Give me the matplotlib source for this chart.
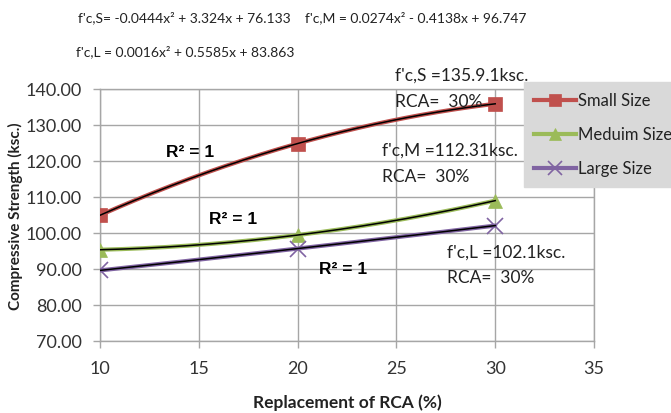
import numpy as np
import matplotlib
matplotlib.use("Agg")
import matplotlib.pyplot as plt
from matplotlib.lines import Line2D

# Data
x_vals = [10, 20, 30]
small = [104.93, 124.85, 135.89]
medium = [95.35, 99.43, 108.99]
large = [89.61, 95.67, 102.06]
series_names = ["Small Size", "Meduim Size", "Large Size"]
colors = ["#c0504d", "#9bbb59", "#8064a2"]
markers = ["s", "^", "x"]
x_ticks = [10, 15, 20, 25, 30, 35]
y_ticks = [70, 80, 90, 100, 110, 120, 130, 140]

W, H = 671, 414
fig = plt.figure(figsize=(W / 100, H / 100), dpi=100)
ax = fig.add_axes([100 / W, 1 - 342 / H, 494 / W, 252 / H])

font = "Lato"
xs = np.linspace(10, 30, 200)
for vals, c, m, name in zip([small, medium, large], colors, markers, series_names):
    coef = np.polyfit(x_vals, vals, 2)
    ys = np.polyval(coef, xs)
    ax.plot(xs, ys, color=c, lw=3.0, zorder=3, solid_capstyle="round")
    ms = 11 if m == "x" else 10
    ax.plot(x_vals, vals, linestyle="none", marker=m, color=c, markersize=ms,
            markeredgewidth=1.2 if m == "x" else 0.5, zorder=4)
    ax.plot(xs, ys, color="black", lw=1.1, zorder=5)

ax.set_xlim(10, 35)
ax.set_ylim(70, 140)
ax.set_xticks(x_ticks)
ax.set_yticks(y_ticks)
ax.set_yticklabels([f"{v:.2f}" for v in y_ticks])
ax.grid(True, color="#a6a6a6", lw=1.0, zorder=0)
for s in ax.spines.values():
    s.set_color("#a6a6a6")
    s.set_linewidth(1.0)
ax.tick_params(axis="both", colors="#a6a6a6", length=5, width=1.0,
               labelcolor="#333333", labelsize=13)
for lbl in ax.get_xticklabels() + ax.get_yticklabels():
    lbl.set_fontfamily(font)
ax.tick_params(axis="x", pad=9)
ax.tick_params(axis="y", pad=8)

ax.set_xlabel("Replacement of RCA (%)", fontsize=12.5, fontweight="bold",
              family=font, color="#222222", labelpad=12)
ax.set_ylabel("Compressive Strength (ksc.)", fontsize=11, fontweight="bold",
              family=font, color="#222222", labelpad=2)


def ftext(px, py, s, **kw):
    fig.text(px / W, 1 - py / H, s, va="center", ha="left", **kw)


eq_kw = dict(fontsize=10, family=font, color="#222222")
ftext(78, 18, "f'c,S= -0.0444x² + 3.324x + 76.133", **eq_kw)
ftext(305, 18, "f'c,M = 0.0274x² - 0.4138x + 96.747", **eq_kw)
ftext(76, 52, "f'c,L = 0.0016x² + 0.5585x + 83.863", **eq_kw)

an_kw = dict(fontsize=12.5, family=font, color="#222222")
ftext(395, 76, "f'c,S =135.9.1ksc.", **an_kw)
ftext(395, 102, "RCA=  30%", **an_kw)
ftext(382, 151, "f'c,M =112.31ksc.", **an_kw)
ftext(382, 177, "RCA=  30%", **an_kw)
ftext(447, 253, "f'c,L =102.1ksc.", **an_kw)
ftext(447, 278, "RCA=  30%", **an_kw)

r_kw = dict(fontsize=12.5, fontweight="bold", family="Liberation Sans", color="black")
ftext(166, 153, "R² = 1", **r_kw)
ftext(209, 220, "R² = 1", **r_kw)
ftext(319, 269, "R² = 1", **r_kw)

handles = [Line2D([0], [0], color=c, lw=3, marker=m, markersize=9 if m != "x" else 10,
                  markeredgewidth=1.2 if m == "x" else 0.5)
           for c, m in zip(colors, markers)]
leg = fig.legend(handles, series_names, loc="upper left",
                 bbox_to_anchor=(524 / W, 1 - 83 / H), frameon=True,
                 fancybox=False, facecolor="#d9d9d9", edgecolor="#d9d9d9",
                 framealpha=1, handlelength=2.5, handletextpad=0.1,
                 labelspacing=1.08, borderpad=0.62, borderaxespad=0,
                 prop={"family": font, "size": 12})
for t in leg.get_texts():
    t.set_color("#222222")

fig.savefig("out.png", dpi=100)
